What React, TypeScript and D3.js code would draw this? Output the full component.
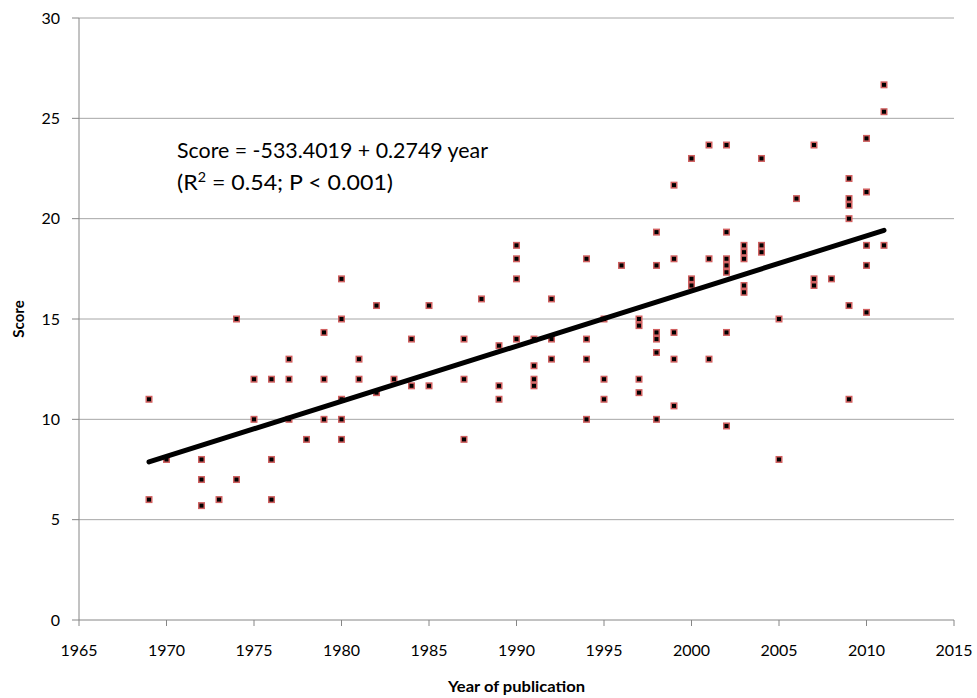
import React from "react";
import * as d3 from "d3";

// Publication year and score for each study
const years: number[] = [
  1969, 1969,
  1970,
  1972, 1972, 1972,
  1973,
  1974, 1974,
  1975, 1975,
  1976, 1976, 1976,
  1977, 1977, 1977,
  1978,
  1979, 1979, 1979,
  1980, 1980, 1980, 1980, 1980,
  1981, 1981,
  1982, 1982,
  1983,
  1984, 1984,
  1985, 1985,
  1987, 1987, 1987,
  1988,
  1989, 1989, 1989,
  1990, 1990, 1990, 1990,
  1991, 1991, 1991, 1991,
  1992, 1992, 1992,
  1994, 1994, 1994, 1994,
  1995, 1995, 1995,
  1996,
  1997, 1997, 1997, 1997,
  1998, 1998, 1998, 1998, 1998, 1998,
  1999, 1999, 1999, 1999, 1999,
  2000, 2000, 2000,
  2001, 2001, 2001,
  2002, 2002, 2002, 2002, 2002, 2002, 2002,
  2003, 2003, 2003, 2003, 2003,
  2004, 2004, 2004,
  2005, 2005,
  2006,
  2007, 2007, 2007,
  2008,
  2009, 2009, 2009, 2009, 2009, 2009,
  2010, 2010, 2010, 2010, 2010,
  2011, 2011, 2011,
];

const scores: number[] = [
  11, 6,
  8,
  8, 7, 5.7,
  6,
  15, 7,
  12, 10,
  12, 8, 6,
  13, 12, 10,
  9,
  14.33, 12, 10,
  17, 15, 11, 10, 9,
  13, 12,
  15.67, 11.33,
  12,
  14, 11.67,
  15.67, 11.67,
  14, 12, 9,
  16,
  13.67, 11.67, 11,
  18.67, 18, 17, 14,
  14, 12.67, 12, 11.67,
  16, 14, 13,
  18, 14, 13, 10,
  15, 12, 11,
  17.67,
  15, 14.67, 12, 11.33,
  19.33, 17.67, 14.33, 14, 13.33, 10,
  21.67, 18, 14.33, 13, 10.67,
  23, 17, 16.67,
  23.67, 18, 13,
  23.67, 19.33, 18, 17.67, 17.33, 14.33, 9.67,
  18.67, 18.33, 18, 16.67, 16.33,
  23, 18.67, 18.33,
  15, 8,
  21,
  23.67, 17, 16.67,
  17,
  22, 21, 20.67, 20, 15.67, 11,
  24, 21.33, 18.67, 17.67, 15.33,
  26.67, 25.33, 18.67,
];

const xTicks: number[] = [1965, 1970, 1975, 1980, 1985, 1990, 1995, 2000, 2005, 2010, 2015];
const yTicks: number[] = [0, 5, 10, 15, 20, 25, 30];

// Regression: Score = intercept + slope * year
const intercept = -533.4019;
const slope = 0.2749;

const W = 977;
const H = 698;
const left = 79;
const right = 954;
const top = 18;
const bottom = 620;
const FONT = "Lato, 'Open Sans', sans-serif";

export default function App() {
  const x = d3.scaleLinear().domain([1965, 2015]).range([left, right]);
  const y = d3.scaleLinear().domain([0, 30]).range([bottom, top]);

  const minYear = d3.min(years) as number;
  const maxYear = d3.max(years) as number;
  const fit = [minYear, maxYear].map((yr) => [yr, intercept + slope * yr] as [number, number]);
  const line = d3
    .line<[number, number]>()
    .x((d) => x(d[0]))
    .y((d) => y(d[1]));

  const points = years.map((yr, i) => ({ yr, s: scores[i] }));
  const m = 5.5;

  return (
    <svg
      width={W}
      height={H}
      style={{ position: "absolute", left: 0, top: 0, background: "#fff" }}
      fontFamily={FONT}
    >
      {/* horizontal gridlines and y ticks */}
      {yTicks.map((t) => (
        <g key={"gy" + t}>
          {t > 0 && (
            <line x1={left} x2={right} y1={y(t)} y2={y(t)} stroke="#a6a6a6" strokeWidth={1} />
          )}
          <line x1={left - 7} x2={left} y1={y(t)} y2={y(t)} stroke="#868686" strokeWidth={1} />
          <text x={60} y={y(t)} dy="0.36em" textAnchor="end" fontSize={16} fill="#000">
            {t}
          </text>
        </g>
      ))}

      {/* axes */}
      <line x1={left} x2={left} y1={top} y2={bottom} stroke="#868686" strokeWidth={1} />
      <line x1={left} x2={right} y1={bottom} y2={bottom} stroke="#868686" strokeWidth={1} />

      {xTicks.map((t) => (
        <g key={"gx" + t}>
          <line x1={x(t)} x2={x(t)} y1={bottom} y2={bottom + 6} stroke="#868686" strokeWidth={1} />
          <text x={x(t)} y={656} textAnchor="middle" fontSize={16} fill="#000">
            {t}
          </text>
        </g>
      ))}

      {/* data points */}
      {points.map((p, i) => (
        <rect
          key={i}
          x={x(p.yr) - m / 2}
          y={y(p.s) - m / 2}
          width={m}
          height={m}
          fill="#000"
          stroke="#d06060"
          strokeWidth={1.5}
        />
      ))}

      {/* regression line */}
      <path d={line(fit) || ""} fill="none" stroke="#000" strokeWidth={5} strokeLinecap="round" />

      {/* equation */}
      <text x={177} y={158} fontSize={21} fill="#000" textLength={311} lengthAdjust="spacingAndGlyphs">
        Score = -533.4019 + 0.2749 year
      </text>
      <text x={177} y={190} fontSize={21} fill="#000" textLength={216} lengthAdjust="spacingAndGlyphs">
        (R<tspan fontSize={13} dy={-8}>2</tspan>
        <tspan dy={8}> = 0.54; P &lt; 0.001)</tspan>
      </text>

      {/* axis titles */}
      <text
        x={(left + right) / 2}
        y={692}
        textAnchor="middle"
        fontSize={15}
        fontWeight="bold"
        fill="#000"
        textLength={137}
        lengthAdjust="spacingAndGlyphs"
      >
        Year of publication
      </text>
      <text
        transform={`translate(24, ${(top + bottom) / 2}) rotate(-90)`}
        textAnchor="middle"
        fontSize={15}
        fontWeight="bold"
        fill="#000"
      >
        Score
      </text>
    </svg>
  );
}
